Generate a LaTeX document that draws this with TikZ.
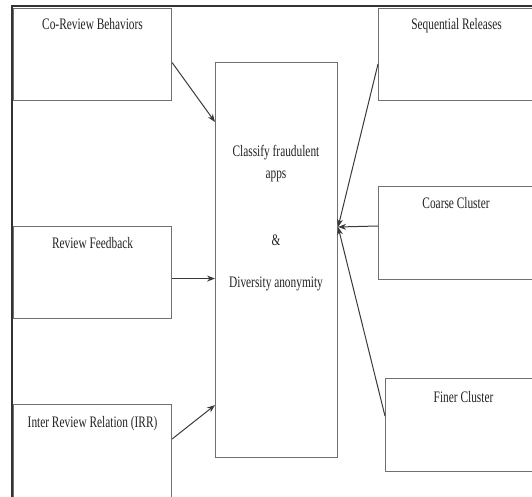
\documentclass[tikz,border=0pt]{standalone}
\usepackage{fontspec}
\newfontfamily\boxfont[FakeStretch=0.71]{Liberation Serif}
\usepackage{xcolor}
\usepackage{tikz}
\usetikzlibrary{positioning, arrows.meta, calc}
\definecolor{frgray}{HTML}{333333}
\definecolor{bxgray}{HTML}{707070}
\definecolor{argray}{HTML}{3A3A3A}
\definecolor{txgray}{HTML}{222222}

\begin{document}
\begin{tikzpicture}[
  x=1pt, y=-1pt,
  featbox/.style={
    rectangle, draw=bxgray, line width=1.1pt, anchor=north west,
    minimum height=92pt, inner sep=0pt
  },
  boxtext/.style={
    font=\boxfont\fontsize{16}{22}\selectfont, text=txgray
  },
  arr/.style={-{Stealth[length=8pt, width=6pt]}, line width=1pt, color=argray},
]
\useasboundingbox (0,0) rectangle (532,497);
\clip (0,0) rectangle (532,497);

% Outer frame
\draw[frgray, line width=1.8pt] (12,6) rectangle (545,510);

% Left inputs
\node[featbox, minimum width=158pt,
  label={[boxtext, anchor=base, yshift=-22pt]north:Co-Review Behaviors}]
  (corev) at (13,8) {};
\node[featbox, minimum width=158pt,
  label={[boxtext, anchor=base, yshift=-22pt]north:Review Feedback}]
  (revfb) at (13,226) {};
\node[featbox, minimum width=158pt, minimum height=110pt,
  label={[boxtext, anchor=base, yshift=-23pt]north:Inter Review Relation (IRR)}]
  (irr) at (13,404) {};

% Classifier (center)
\node[featbox, minimum width=122pt, minimum height=395pt] (fraud) at (215,62) {};
\node[boxtext, align=center, anchor=base, inner sep=0pt] (fraudtxt) at (276,287)
  {Classify fraudulent\\apps\\[45pt]\&\\[20pt]Diversity anonymity};

% Right inputs
\node[featbox, minimum width=156pt,
  label={[boxtext, anchor=base, yshift=-22pt]north:Sequential Releases}]
  (seqrel) at (378,8) {};
\node[featbox, minimum width=155pt, minimum height=93pt,
  label={[boxtext, anchor=base, yshift=-22pt]north:Coarse Cluster}]
  (coarse) at (378,186) {};
\node[featbox, minimum width=156pt, minimum height=93pt,
  label={[boxtext, anchor=base, yshift=-24pt]north:Finer Cluster}]
  (finer) at (385,378) {};

\coordinate (rfout) at ([yshift=-6pt]revfb.east);
\coordinate (hub) at ([yshift=-165pt]fraud.north east);

% Arrows
\draw[arr] ([yshift=-8pt]corev.east) -- ([yshift=-60pt]fraud.north west);
\draw[arr] (rfout) -- (rfout -| fraud.west);
\draw[arr] ([yshift=-35pt]irr.north east) -- ([yshift=53pt]fraud.south west);
\draw[arr] ([yshift=-56pt]seqrel.north west) -- (hub);
\draw[arr] ([yshift=-40pt]coarse.north west) -- (hub);
\draw[arr] ([yshift=-38pt]finer.north west) -- (hub);

\end{tikzpicture}
\end{document}
